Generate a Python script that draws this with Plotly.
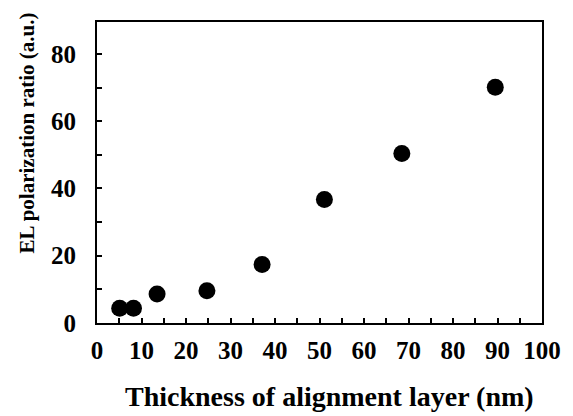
import plotly.graph_objects as go

thickness_nm = [5.1, 8.2, 13.5, 24.7, 37.1, 51.1, 68.5, 89.5]
polarization_ratio = [4.4, 4.4, 8.6, 9.6, 17.4, 36.7, 50.4, 70.1]

x_ticks = [0, 10, 20, 30, 40, 50, 60, 70, 80, 90, 100]
y_ticks = [0, 20, 40, 60, 80]
x_title = "Thickness of alignment layer (nm)"
y_title = "EL polarization ratio (a.u.)"

FONT = "Liberation Serif, Times New Roman, serif"

fig = go.Figure()
fig.add_trace(go.Scatter(
    x=thickness_nm, y=polarization_ratio, mode="markers",
    marker=dict(size=17, color="black"), showlegend=False,
))

axis_common = dict(
    showgrid=False, zeroline=False, showline=True, linecolor="black", linewidth=2,
    mirror=True, ticks="inside", ticklen=5, tickwidth=2, tickcolor="black",
    tickfont=dict(family=FONT, size=25, color="black", weight="bold"),
)
fig.update_xaxes(range=[0, 100], tickvals=x_ticks, ticklabelstandoff=4,
                 minor=dict(ticks="inside", dtick=5, ticklen=5, tickwidth=2, tickcolor="black"),
                 **axis_common)
fig.update_yaxes(range=[0, 89.5], tickvals=y_ticks, ticklabelstandoff=14,
                 minor=dict(ticks="inside", dtick=10, ticklen=5, tickwidth=2, tickcolor="black"),
                 **axis_common)

fig.add_annotation(text=x_title, xref="paper", yref="paper", x=0.523, y=-0.245,
                   xanchor="center", yanchor="middle", showarrow=False,
                   font=dict(family=FONT, size=28, color="black", weight="bold"))
fig.add_annotation(text=y_title, xref="paper", yref="paper", x=-0.158, y=0.632,
                   xanchor="center", yanchor="middle", textangle=-90, showarrow=False,
                   font=dict(family=FONT, size=21, color="black", weight="bold"))

fig.update_layout(
    width=565, height=408,
    margin=dict(l=89, r=23, t=13, b=93),
    paper_bgcolor="white", plot_bgcolor="white",
)
fig.write_html("out.html")
